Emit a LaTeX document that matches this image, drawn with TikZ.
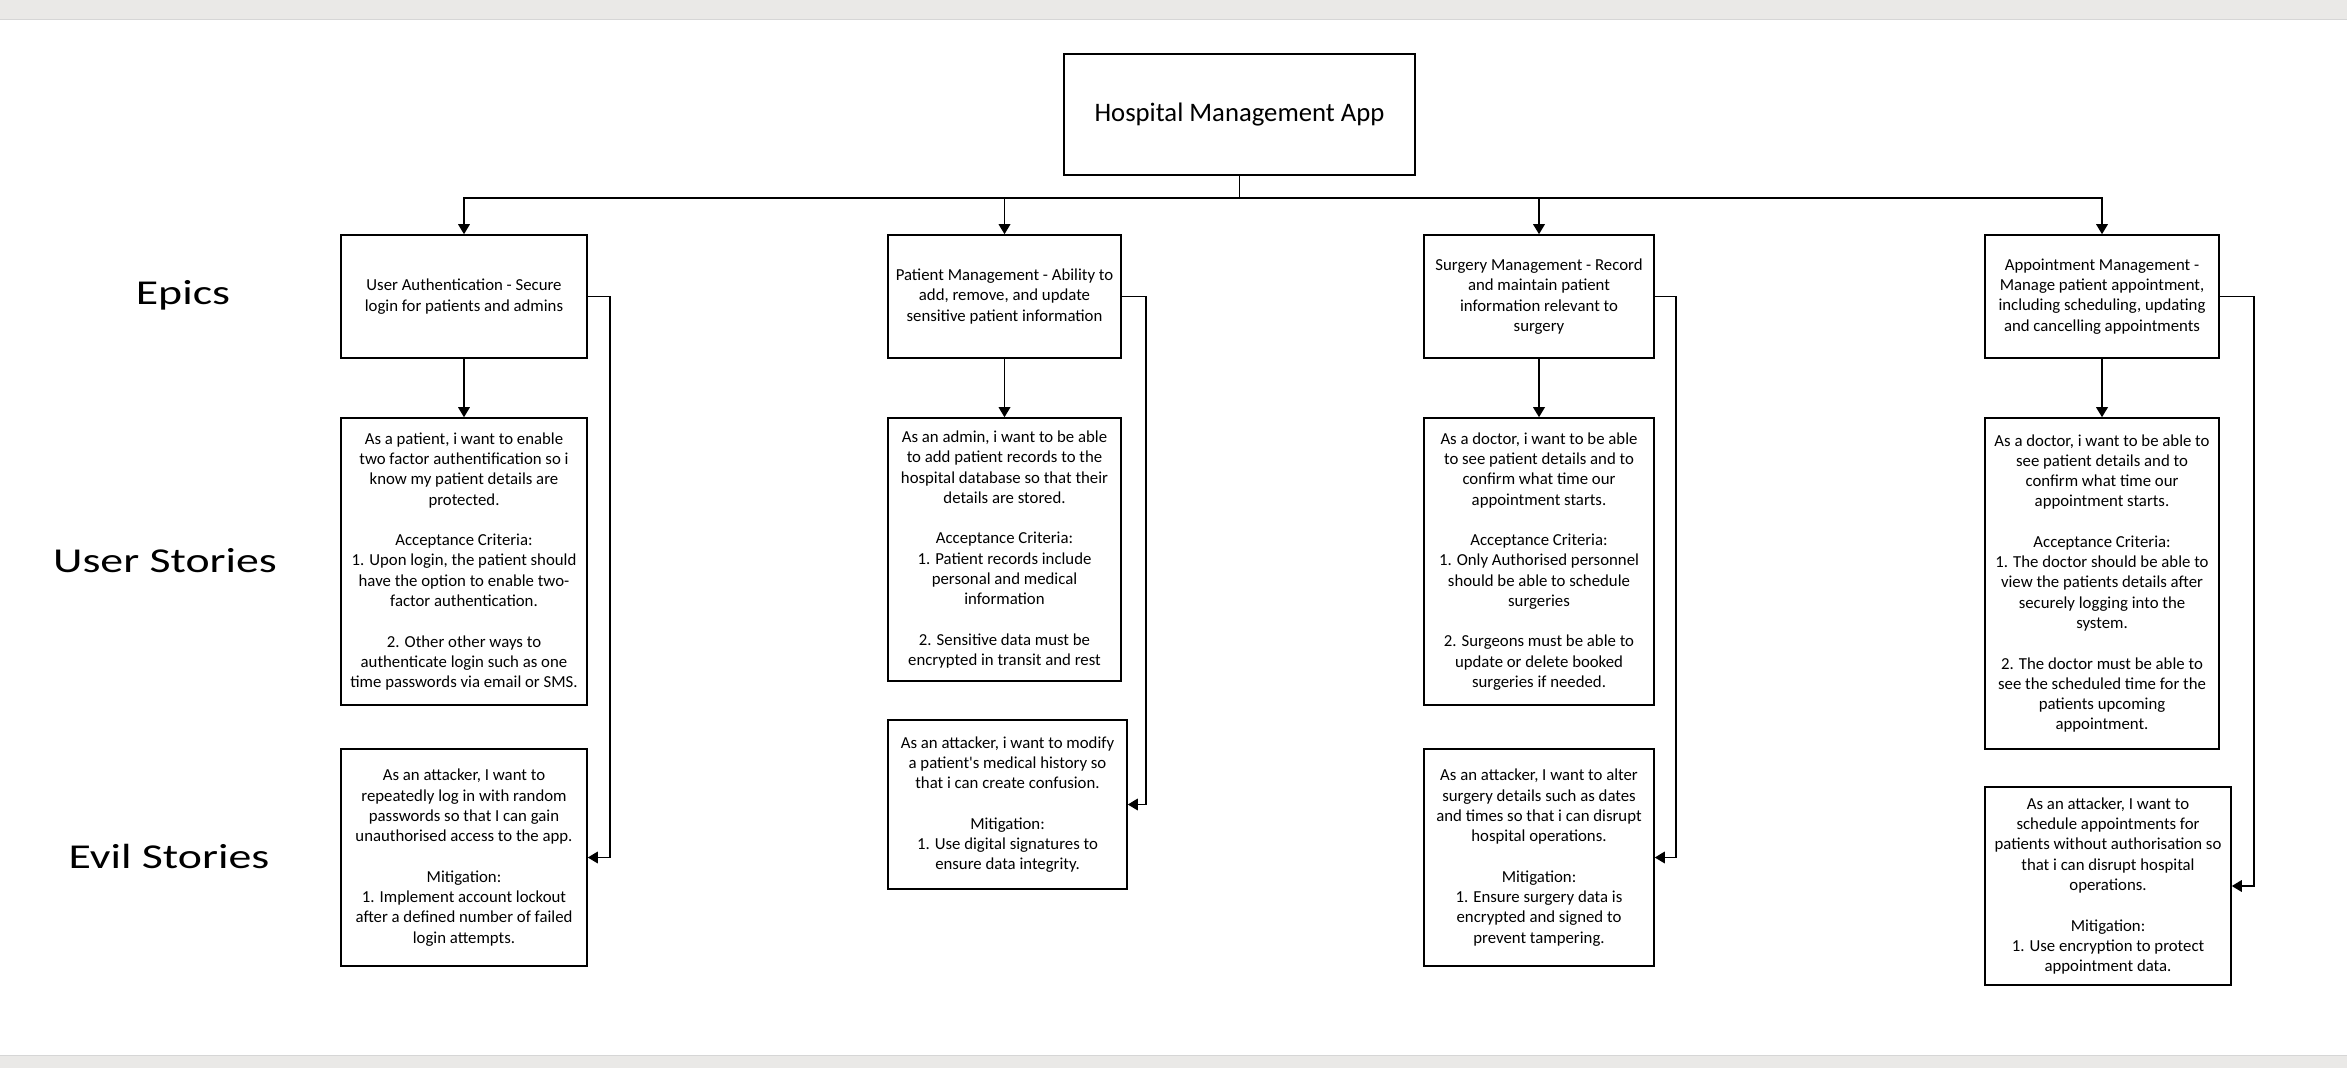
\documentclass[tikz,border=0pt]{standalone}
\usepackage{fontspec}
\setmainfont{Carlito}
\usepackage{graphicx}
\usepackage{xcolor}
\usetikzlibrary{arrows.meta}

\definecolor{bandgrey}{HTML}{EAE9E7}
\definecolor{bandline}{HTML}{D6D6D6}

\newcommand{\gap}{\\[11.5pt]}

\begin{document}
\begin{tikzpicture}[
                x=0.02cm, y=-0.02cm,
                box/.style={draw, rectangle, line width=0.9pt, inner sep=0pt, align=center,
                            font=\fontsize{9.55pt}{11.55pt}\selectfont},
                app/.style={box, minimum width=7.02cm, minimum height=2.42cm,
                            font=\fontsize{15.2pt}{18pt}\selectfont},
                epic/.style={box, minimum height=2.46cm},
                story/.style={box},
                rowlabel/.style={font=\fontsize{19.9pt}{24pt}\selectfont},
                ->, >={Triangle[width=0.23cm,length=0.2cm]}, line width=1pt
            ]

            % Page frame
            \useasboundingbox (0,0) rectangle (2347,1068);
            \fill[bandgrey] (0,0) rectangle (2347,19);
            \draw[-, bandline, line width=1pt] (0,19.5) -- (2347,19.5);
            \fill[bandgrey] (0,1056) rectangle (2347,1068);
            \draw[-, bandline, line width=1pt] (0,1055.5) -- (2347,1055.5);

            % Row labels
            \node[rowlabel] (lblepics) at (183,295) {\scalebox{1.31}[1]{Epics}};
            \node[rowlabel] (lblstories) at (165,561) {\scalebox{1.31}[1]{User Stories}};
            \node[rowlabel] (lblevil) at (169,856) {\scalebox{1.31}[1]{Evil Stories}};

            % Nodes
            \node[app] (app) at (1239.5,114.5) {Hospital Management App};

            \node[epic, minimum width=4.92cm] (auth) at (464,296.5)
                {User Authentication - Secure\\login for patients and admins};
            \node[epic, minimum width=4.66cm] (patient) at (1004.5,296.5)
                {Patient Management - Ability to\\add, remove, and update\\sensitive patient information};
            \node[epic, minimum width=4.60cm] (surgery) at (1539,296.5)
                {Surgery Management - Record\\and maintain patient\\information relevant to\\surgery};
            \node[epic, minimum width=4.68cm] (appoint) at (2102,296.5)
                {Appointment Management -\\Manage patient appointment,\\including scheduling, updating\\and cancelling appointments};

            \node[story, minimum width=4.92cm, minimum height=5.74cm] (authstory) at (464,561.5)
                {As a patient, i want to enable\\two factor authentification so i\\know my patient details are\\protected.\gap
                 Acceptance Criteria:\\1. Upon login, the patient should\\have the option to enable two-\\factor authentication.\gap
                 2. Other other ways to\\authenticate login such as one\\time passwords via email or SMS.};
            \node[story, minimum width=4.66cm, minimum height=5.26cm] (patientstory) at (1004.5,549.5)
                {As an admin, i want to be able\\to add patient records to the\\hospital database so that their\\details are stored.\gap
                 Acceptance Criteria:\\1. Patient records include\\personal and medical\\information\gap
                 2. Sensitive data must be\\encrypted in transit and rest};
            \node[story, minimum width=4.60cm, minimum height=5.74cm] (surgerystory) at (1539,561.5)
                {As a doctor, i want to be able\\to see patient details and to\\confirm what time our\\appointment starts.\gap
                 Acceptance Criteria:\\1. Only Authorised personnel\\should be able to schedule\\surgeries\gap
                 2. Surgeons must be able to\\update or delete booked\\surgeries if needed.};
            \node[story, minimum width=4.68cm, minimum height=6.62cm] (appointstory) at (2102,583.5)
                {As a doctor, i want to be able to\\see patient details and to\\confirm what time our\\appointment starts.\gap
                 Acceptance Criteria:\\1. The doctor should be able to\\view the patients details after\\securely logging into the\\system.\gap
                 2. The doctor must be able to\\see the scheduled time for the\\patients upcoming\\appointment.};

            \node[story, minimum width=4.92cm, minimum height=4.34cm] (authevil) at (464,857.5)
                {As an attacker, I want to\\repeatedly log in with random\\passwords so that I can gain\\unauthorised access to the app.\gap
                 Mitigation:\\1. Implement account lockout\\after a defined number of failed\\login attempts.};
            \node[story, minimum width=4.78cm, minimum height=3.38cm] (patientevil) at (1007.5,804.5)
                {As an attacker, i want to modify\\a patient\textquotesingle s medical history so\\that i can create confusion.\gap
                 Mitigation:\\1. Use digital signatures to\\ensure data integrity.};
            \node[story, minimum width=4.60cm, minimum height=4.34cm] (surgeryevil) at (1539,857.5)
                {As an attacker, I want to alter\\surgery details such as dates\\and times so that i can disrupt\\hospital operations.\gap
                 Mitigation:\\1. Ensure surgery data is\\encrypted and signed to\\prevent tampering.};
            \node[story, minimum width=4.92cm, minimum height=3.96cm] (appointevil) at (2108,886)
                {As an attacker, I want to\\schedule appointments for\\patients without authorisation so\\that i can disrupt hospital\\operations.\gap
                 Mitigation:\\1. Use encryption to protect\\appointment data.};

            % Bus under the app box
            \coordinate (bus) at (1239.5,198);

            % Edges
            \draw (app.south) -- (bus) -| (auth.north);
            \draw (bus) -| (patient.north);
            \draw (bus) -| (surgery.north);
            \draw (bus) -| (appoint.north);

            \draw (auth) -- (authstory);
            \draw (patient) -- (patientstory);
            \draw (surgery) -- (surgerystory);
            \draw (appoint) -- (appointstory);

            \draw (auth.east) -- ++(22,0) |- (authevil.east);
            \draw (patient.east) -- ++(24,0) |- (patientevil.east);
            \draw (surgery.east) -- ++(21,0) |- (surgeryevil.east);
            \draw (appoint.east) -- ++(34,0) |- (appointevil.east);

\end{tikzpicture}
\end{document}
